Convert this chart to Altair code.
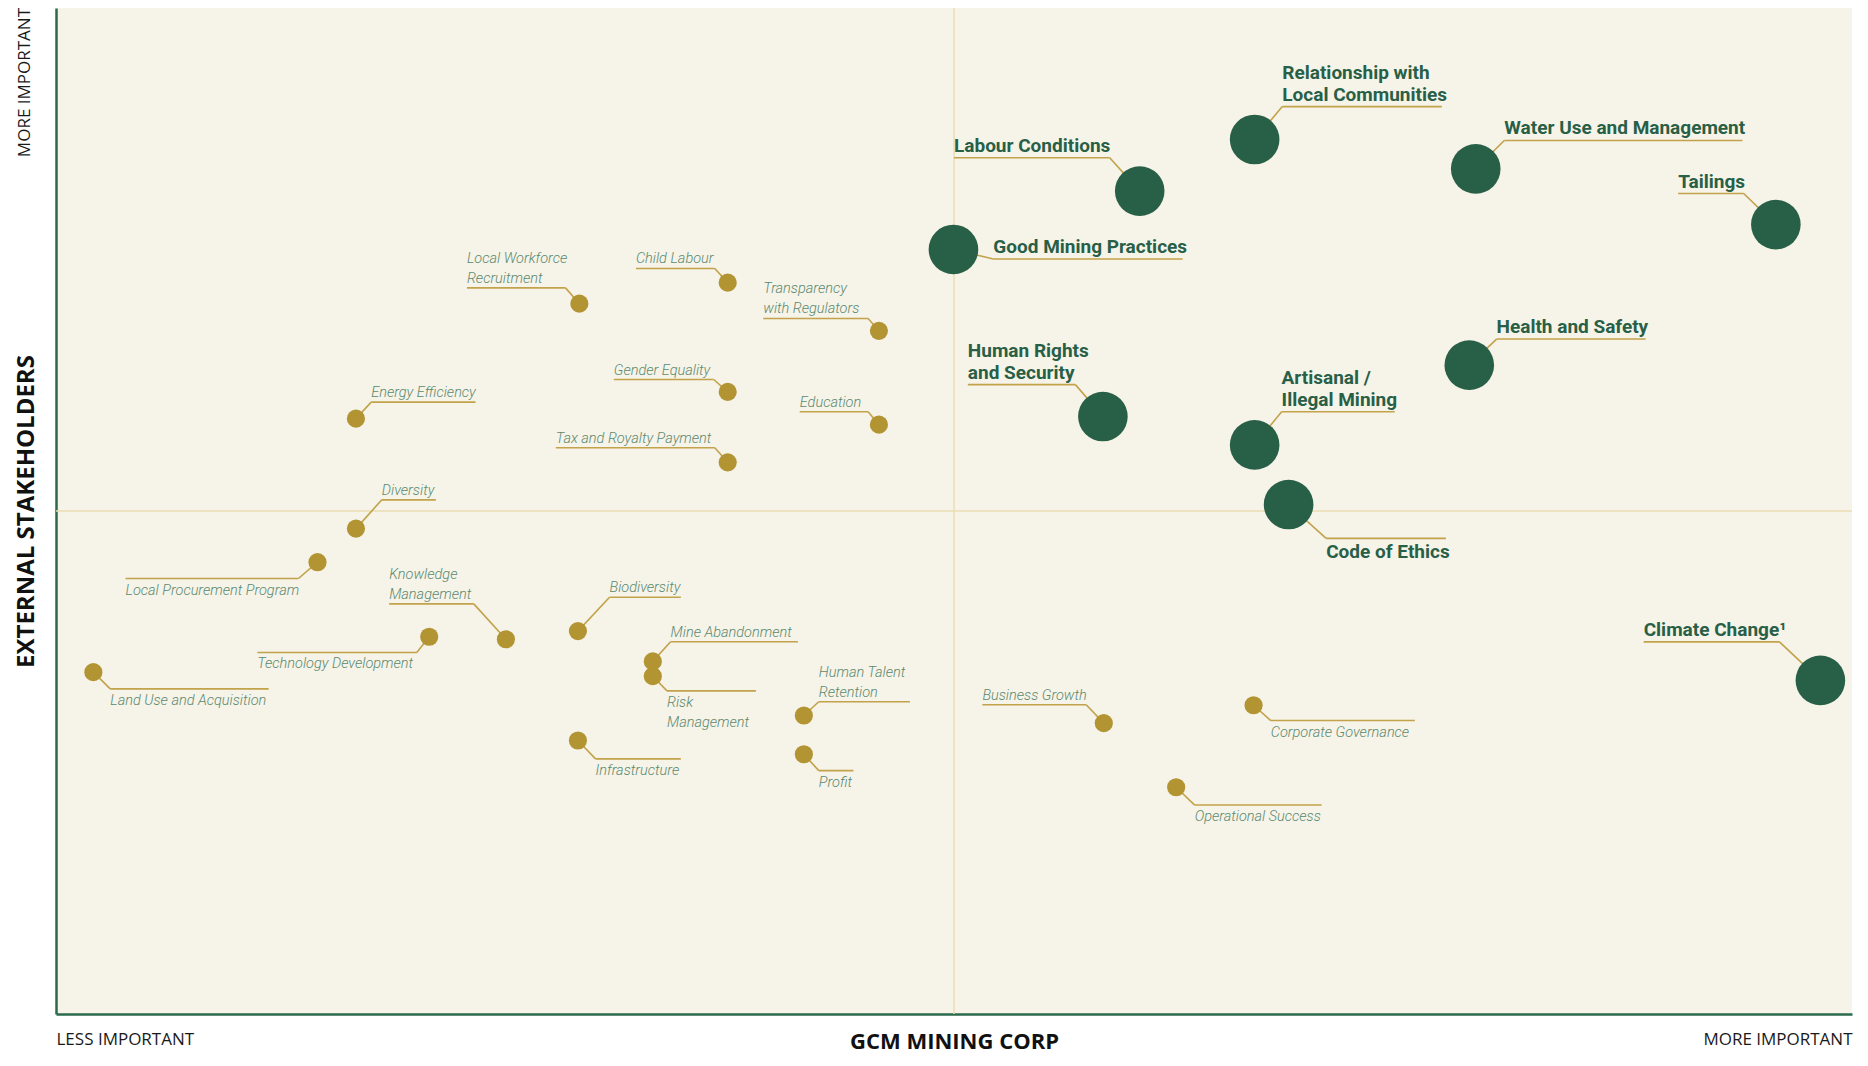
import altair as alt
import pandas as pd

# ---------------- data ----------------
topics = [
    "Relationship with\nLocal Communities", "Labour Conditions", "Water Use and Management",
    "Tailings", "Good Mining Practices", "Health and Safety", "Human Rights\nand Security",
    "Artisanal /\nIllegal Mining", "Code of Ethics", "Climate Change\u00b9",
    "Local Workforce\nRecruitment", "Child Labour", "Transparency\nwith Regulators",
    "Energy Efficiency", "Gender Equality", "Education", "Tax and Royalty Payment",
    "Diversity", "Local Procurement Program", "Knowledge\nManagement",
    "Technology Development", "Land Use and Acquisition", "Biodiversity",
    "Mine Abandonment", "Risk\nManagement", "Human Talent\nRetention", "Infrastructure",
    "Profit", "Business Growth", "Corporate Governance", "Operational Success",
]
company_importance = [
    66.74, 60.34, 79.05, 95.76, 49.97, 78.69, 58.29, 66.74, 68.63, 98.24,
    29.14, 37.40, 45.82, 16.70, 37.40, 45.82, 37.40, 16.70, 14.56, 25.05,
    20.78, 2.08, 29.06, 33.23, 33.23, 41.64, 29.06, 41.64, 58.34, 66.68, 62.37,
]
stakeholder_importance = [
    86.93, 81.80, 84.01, 78.47, 76.00, 64.50, 59.39, 56.57, 50.64, 33.16,
    70.61, 72.70, 67.91, 59.18, 61.84, 58.58, 54.84, 48.25, 44.91, 37.25,
    37.50, 33.98, 38.06, 35.05, 33.58, 29.67, 27.19, 25.82, 28.91, 30.69, 22.54,
]
tier = ["major"] * 10 + ["minor"] * 21

# ---------------- label layout (annotation placement, data units) ----------------
label_line_y = [
    90.20, 85.11, 86.83, 81.56, 75.05, 67.09, 62.56, 59.86, 47.28, 36.99,
    72.18, 74.11, 69.14, 60.82, 63.07, 59.87, 56.28, 51.11, 43.29, 40.77,
    35.94, 32.32, 41.42, 37.01, 32.12, 31.04, 25.36, 24.19, 30.74, 29.17, 20.77,
]
label_line_start = [
    68.28, 50.00, 80.64, 90.32, 52.19, 80.21, 50.77, 68.24, 70.72, 88.40,
    22.88, 32.29, 39.38, 17.55, 31.06, 41.41, 27.83, 18.14, 3.87, 18.55,
    11.21, 3.02, 30.82, 34.22, 34.02, 42.47, 30.04, 42.47, 51.58, 67.64, 63.40,
]
label_line_end = [
    77.16, 58.67, 93.90, 93.97, 62.73, 88.51, 56.76, 74.54, 77.39, 95.96,
    28.37, 36.68, 45.22, 23.36, 36.62, 45.22, 36.68, 21.15, 13.50, 23.26,
    20.09, 11.84, 34.79, 41.31, 38.97, 47.55, 34.79, 44.40, 57.36, 75.66, 70.47,
]
leader_from = [
    "start", "end", "start", "end", "start", "start", "end", "start", "start", "end",
    "end", "end", "end", "start", "end", "end", "end", "start", "end", "end",
    "end", "start", "start", "start", "start", "start", "start", "start", "end", "start", "start",
]
text_side = [
    "above"] * 8 + ["below", "above"] + [
    "above", "above", "above", "above", "above", "above", "above", "above", "below", "above",
    "below", "below", "above", "above", "below", "above", "below", "below", "above", "below", "below",
]

df = pd.DataFrame({
    "topic": topics,
    "x": company_importance,
    "y": stakeholder_importance,
    "tier": tier,
    "uy": label_line_y,
    "ux1": label_line_start,
    "ux2": label_line_end,
    "lead": leader_from,
    "side": text_side,
})
df["ex"] = [a if l == "start" else b for a, b, l in zip(df.ux1, df.ux2, df.lead)]
df["nlines"] = [t.count("\n") + 1 for t in df.topic]

# ---------------- styling ----------------
BG = "#f6f3e8"
GREEN = "#285f47"
GOLD = "#b29433"
LEADER = "#c2a24a"
MIDLINE = "#ebdeb5"
AXIS_GREEN = "#2b6a4d"
MINOR_TEXT = "#5b8a6f"

W, H = 1796, 1006

sc = alt.Scale(domain=[0, 100], nice=False, zero=False)
xaxis = alt.Axis(
    values=[0, 100],
    labelExpr="datum.value == 0 ? 'LESS IMPORTANT' : 'MORE IMPORTANT'",
    labelFlush=True, labelPadding=17, labelFont="Open Sans", labelFontSize=17,
    labelColor="#1a1a1a", ticks=False, grid=False,
    domainColor=AXIS_GREEN, domainWidth=2.5,
    title="GCM MINING CORP", titleFont="Open Sans", titleFontSize=22,
    titleFontWeight="bold", titleColor="#111111", titleY=27, titleBaseline="middle",
)
yaxis = alt.Axis(
    labels=False, ticks=False, grid=False,
    domainColor=AXIS_GREEN, domainWidth=2.5,
    title="EXTERNAL STAKEHOLDERS", titleFont="Open Sans", titleFontSize=24,
    titleFontWeight="bold", titleColor="#111111", titleAngle=270,
    titleX=-30, titleY=H / 2, titleAlign="center", titleBaseline="middle",
)


def X(f):
    return alt.X(f, type="quantitative", scale=sc, axis=xaxis)


def Y(f):
    return alt.Y(f, type="quantitative", scale=sc, axis=yaxis)


base = alt.Chart(df)
mid = alt.Chart(pd.DataFrame({"v": [50]}))

vline = mid.mark_rule(color=MIDLINE, strokeWidth=1.5).encode(x=X("v"))
hline = mid.mark_rule(color=MIDLINE, strokeWidth=1.5).encode(y=Y("v"))

underline = base.mark_rule(color=LEADER, strokeWidth=1.6).encode(
    x=X("ux1"), x2="ux2", y=Y("uy")
)
diag = base.mark_rule(color=LEADER, strokeWidth=1.6).encode(
    x=X("ex"), y=Y("uy"), x2="x", y2="y"
)
points = base.mark_circle(opacity=1).encode(
    x=X("x"), y=Y("y"),
    size=alt.Size("tier:N", scale=alt.Scale(domain=["major", "minor"], range=[2460, 330]), legend=None),
    color=alt.Color("tier:N", scale=alt.Scale(domain=["major", "minor"], range=[GREEN, GOLD]), legend=None),
)

major_style = dict(font="Roboto", fontSize=19, fontWeight="bold", color=GREEN,
                   lineHeight=22, align="left", lineBreak="\n")
minor_style = dict(font="Roboto", fontSize=14.5, fontWeight=300, fontStyle="italic",
                   color=MINOR_TEXT, lineHeight=20, align="left", lineBreak="\n")


def label_layer(tier_name, side, nlines, style):
    flt = (f"datum.tier == '{tier_name}' && datum.side == '{side}'"
           f" && datum.nlines == {nlines}")
    if side == "above":
        mk = dict(baseline="bottom", dy=-2 - (nlines - 1) * style["lineHeight"])
    else:
        mk = dict(baseline="top", dy=5)
    return base.transform_filter(flt).mark_text(**style, **mk).encode(
        x=X("ux1"), y=Y("uy"), text="topic:N"
    )


texts = [
    label_layer("major", "above", 1, major_style),
    label_layer("major", "above", 2, major_style),
    label_layer("major", "below", 1, major_style),
    label_layer("minor", "above", 1, minor_style),
    label_layer("minor", "above", 2, minor_style),
    label_layer("minor", "below", 1, minor_style),
    label_layer("minor", "below", 2, minor_style),
]

ytop = alt.Chart(pd.DataFrame({"t": ["MORE IMPORTANT"]})).mark_text(
    angle=270, align="right", baseline="middle", font="Open Sans",
    fontSize=17, color="#1a1a1a"
).encode(x=alt.value(-31), y=alt.value(0), text="t:N")

chart = alt.layer(
    vline, hline, underline, diag, points, *texts, ytop
).properties(
    width=W, height=H,
    autosize=alt.AutoSizeParams(type="none"),
    padding={"left": 48, "top": 0, "right": 4, "bottom": 42},
    background="white",
).configure_view(stroke=None, fill=BG)

chart.save("out.html", embed_options={"renderer": "svg", "actions": False})
